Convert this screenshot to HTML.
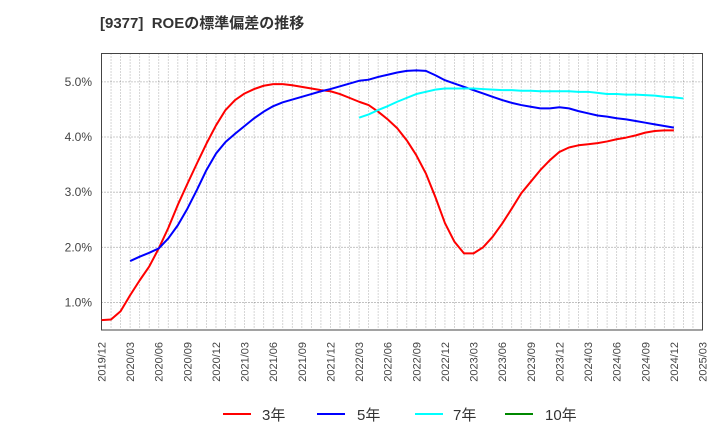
<!DOCTYPE html>
<html><head><meta charset="utf-8"><style>
body{margin:0;background:#fff;}
svg text{font-family:"Liberation Sans","Noto Sans CJK JP",sans-serif;}
</style></head><body>
<svg id="chart" width="720" height="440" xmlns="http://www.w3.org/2000/svg">
<text x="100" y="28" font-size="15" font-weight="bold" fill="#333" style="white-space:pre">[9377]  ROEの標準偏差の推移</text>
<g id="grid"></g><g id="axes"></g><g id="series"></g>
<g>
<g><line x1="223" y1="414" x2="251" y2="414" stroke="#f00" stroke-width="2"/><text x="262" y="420" font-size="15" fill="#333">3年</text></g>
<g><line x1="317" y1="414" x2="345" y2="414" stroke="#00f" stroke-width="2"/><text x="357" y="420" font-size="15" fill="#333">5年</text></g>
<g><line x1="415" y1="414" x2="443" y2="414" stroke="#0ff" stroke-width="2"/><text x="453" y="420" font-size="15" fill="#333">7年</text></g>
<g><line x1="505" y1="414" x2="533" y2="414" stroke="#080" stroke-width="2"/><text x="545" y="420" font-size="15" fill="#333">10年</text></g>
</g>
</svg>
<script>
const xTickLabels=["2019/12","2020/03","2020/06","2020/09","2020/12","2021/03","2021/06","2021/09","2021/12","2022/03","2022/06","2022/09","2022/12","2023/03","2023/06","2023/09","2023/12","2024/03","2024/06","2024/09","2024/12","2025/03"];
const yTicks=[1,2,3,4,5];
const std3=[0.68,0.69,0.84,1.13,1.4,1.65,1.98,2.35,2.77,3.15,3.52,3.88,4.21,4.49,4.67,4.79,4.87,4.93,4.96,4.96,4.94,4.91,4.88,4.85,4.83,4.78,4.71,4.64,4.58,4.46,4.32,4.16,3.94,3.67,3.34,2.91,2.44,2.1,1.89,1.89,2.0,2.19,2.43,2.7,2.98,3.19,3.4,3.58,3.73,3.81,3.85,3.87,3.89,3.92,3.96,3.99,4.03,4.08,4.11,4.12,4.12];
const std5Start=3;
const std5=[1.75,1.83,1.9,1.98,2.16,2.4,2.7,3.04,3.4,3.7,3.91,4.06,4.2,4.34,4.46,4.56,4.63,4.68,4.73,4.78,4.83,4.87,4.92,4.97,5.02,5.04,5.09,5.13,5.17,5.2,5.21,5.2,5.12,5.03,4.97,4.91,4.85,4.79,4.73,4.67,4.62,4.58,4.55,4.52,4.52,4.54,4.52,4.47,4.43,4.39,4.37,4.34,4.32,4.29,4.26,4.23,4.2,4.17];
const std7Start=27;
const std7=[4.35,4.41,4.49,4.56,4.64,4.71,4.78,4.82,4.86,4.88,4.88,4.88,4.88,4.87,4.86,4.85,4.85,4.84,4.84,4.83,4.83,4.83,4.83,4.82,4.82,4.8,4.78,4.78,4.77,4.77,4.76,4.75,4.73,4.72,4.7];
const L=101.5,R=702.5,T=53.5,B=330,months=63,yMin=0.5,yMax=5.515;
const xs=i=>L+(R-L)*i/months;
const ys=v=>B-(B-T)*(v-yMin)/(yMax-yMin);
const NS="http://www.w3.org/2000/svg";
function mk(tag,attrs,parent){const e=document.createElementNS(NS,tag);for(const k in attrs)e.setAttribute(k,attrs[k]);parent.appendChild(e);return e;}
const grid=document.getElementById('grid'),axes=document.getElementById('axes'),ser=document.getElementById('series');
for(let i=1;i<months;i++){const l=mk('line',{x1:xs(i),x2:xs(i),y1:T,y2:B,stroke:'#999','stroke-width':0.8,'stroke-dasharray':'1,2'},grid);

}
yTicks.forEach(v=>{const l=mk('line',{x1:L,x2:R,y1:ys(v),y2:ys(v),stroke:'#777','stroke-width':0.8,'stroke-dasharray':'1,2'},grid);


const t=mk('text',{x:92,y:ys(v)+4,'text-anchor':'end','font-size':12,fill:'#444'},axes);t.textContent=v.toFixed(1)+'%';

});
const fr=mk('rect',{x:L,y:T,width:R-L,height:B-T,fill:'none',stroke:'#444','stroke-width':1},axes);


xTickLabels.forEach((s,k)=>{const x=xs(k*3)+4;const t=mk('text',{x:x,y:342,'text-anchor':'end','font-size':11,fill:'#444',transform:`rotate(-90 ${x} 342)`},axes);t.textContent=s;

});
function line(vals,start,color,name){const p=mk('polyline',{points:vals.map((v,i)=>xs(start+i)+','+ys(v)).join(' '),fill:'none',stroke:color,'stroke-width':2,'stroke-linejoin':'round'},ser);

}
line(std3,0,'#f00','series-3y');
line(std5,std5Start,'#00f','series-5y');
line(std7,std7Start,'#0ff','series-7y');
</script>
</body></html>
